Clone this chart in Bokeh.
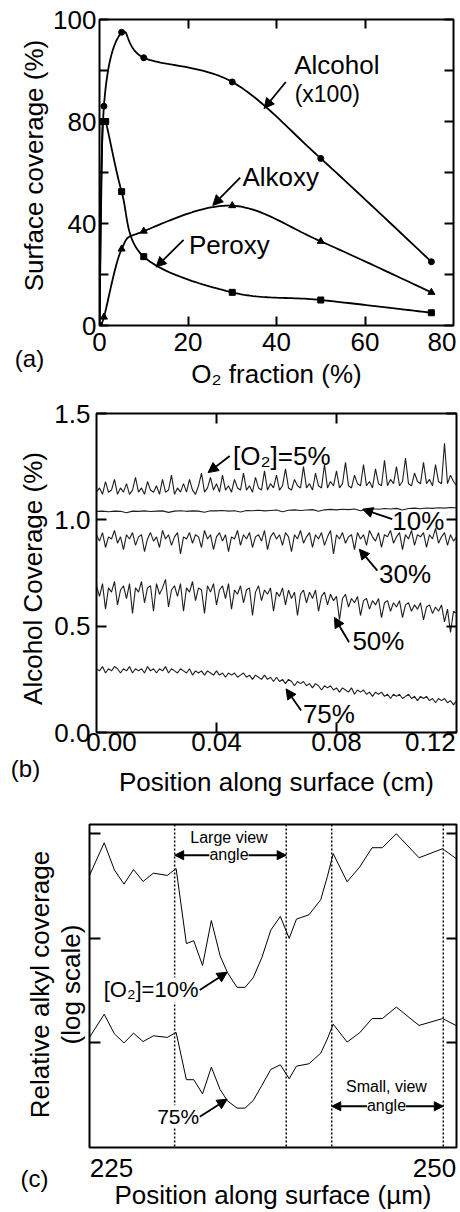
import math
import numpy as np
from bokeh.plotting import figure
from bokeh.layouts import column, row
from bokeh.models import (LinearAxis, FixedTicker, PrintfTickFormatter,
                          Label, Arrow, NormalHead, Span, Range1d)
from bokeh.embed import file_html
from bokeh.resources import INLINE

FONT = "Liberation Sans"

# ---------------- panel (a) data ----------------
o2_pct = [0, 1, 5, 10, 30, 50, 75]
alcohol_x100 = [0, 86, 115, 105, 95.5, 65.5, 25]
alkoxy = [0, 3.3, 30, 37, 47, 33, 13]
peroxy_o2_pct = [0, 0.7, 1.4, 5, 10, 30, 50, 75]
peroxy = [0, 80, 80, 52.5, 27, 13, 10, 5]
a_y_ticks = [0, 20, 40, 60, 80, 100, 120]
a_y_labels = {0: "0", 20: "", 40: "40", 60: "", 80: "80", 100: "", 120: "100"}
a_x_ticks = [20, 40, 60]
a_x_label_pos = [0, 20, 40, 60, 77.4]
a_x_label_text = {77.4: "80"}

# ---------------- panel (b) data ----------------
cov_5 = [1.13, 1.15, 1.12, 1.18, 1.13, 1.14, 1.19, 1.12, 1.15, 1.13,
         1.17, 1.12, 1.14, 1.20, 1.13, 1.15, 1.12, 1.18, 1.14, 1.13,
         1.16, 1.12, 1.19, 1.13, 1.14, 1.21, 1.12, 1.15, 1.13, 1.17,
         1.13, 1.19, 1.14, 1.12, 1.16, 1.22, 1.13, 1.15, 1.20, 1.14,
         1.17, 1.13, 1.21, 1.14, 1.16, 1.13, 1.19, 1.15, 1.14, 1.22,
         1.14, 1.16, 1.13, 1.20, 1.15, 1.14, 1.23, 1.14, 1.17, 1.15,
         1.21, 1.14, 1.16, 1.24, 1.15, 1.14, 1.19, 1.16, 1.15, 1.25,
         1.15, 1.17, 1.14, 1.22, 1.16, 1.15, 1.26, 1.15, 1.18, 1.16,
         1.23, 1.15, 1.17, 1.27, 1.16, 1.15, 1.21, 1.17, 1.16, 1.26,
         1.16, 1.18, 1.15, 1.24, 1.17, 1.16, 1.28, 1.16, 1.19, 1.17,
         1.25, 1.16, 1.18, 1.29, 1.17, 1.16, 1.22, 1.18, 1.17, 1.27,
         1.17, 1.19, 1.16, 1.26, 1.18, 1.17, 1.36, 1.17, 1.21, 1.18, 1.16]
cov_10 = [1.040, 1.041, 1.038, 1.041, 1.040, 1.033, 1.041, 1.040, 1.042, 1.039,
          1.041, 1.042, 1.035, 1.041, 1.043, 1.040, 1.042, 1.041, 1.036, 1.043,
          1.042, 1.044, 1.041, 1.043, 1.037, 1.044, 1.043, 1.045, 1.042, 1.044,
          1.046, 1.038, 1.045, 1.047, 1.044, 1.046, 1.048, 1.040, 1.047, 1.049,
          1.047, 1.050, 1.048, 1.051, 1.043, 1.050, 1.052, 1.050, 1.053, 1.051,
          1.054, 1.046, 1.053, 1.055, 1.052, 1.056, 1.054, 1.057, 1.055, 1.058, 1.057]
cov_30 = [0.93, 0.90, 0.94, 0.87, 0.92, 0.91, 0.95, 0.89, 0.92, 0.86,
          0.93, 0.91, 0.94, 0.88, 0.92, 0.93, 0.85, 0.91, 0.94, 0.90,
          0.92, 0.87, 0.95, 0.91, 0.93, 0.88, 0.92, 0.94, 0.84, 0.92,
          0.91, 0.94, 0.89, 0.93, 0.92, 0.87, 0.95, 0.91, 0.93, 0.86,
          0.92, 0.94, 0.90, 0.93, 0.85, 0.92, 0.91, 0.95, 0.88, 0.93,
          0.91, 0.94, 0.87, 0.92, 0.93, 0.90, 0.95, 0.86, 0.92, 0.94,
          0.91, 0.93, 0.88, 0.94, 0.92, 0.85, 0.93, 0.91, 0.95, 0.89,
          0.92, 0.94, 0.87, 0.93, 0.91, 0.94, 0.88, 0.92, 0.95, 0.84,
          0.93, 0.91, 0.94, 0.89, 0.92, 0.93, 0.86, 0.94, 0.91, 0.93,
          0.88, 0.95, 0.92, 0.90, 0.94, 0.87, 0.93, 0.92, 0.95, 0.89,
          0.92, 0.94, 0.86, 0.93, 0.91, 0.95, 0.88, 0.93, 0.92, 0.94,
          0.87, 0.93, 0.91, 0.96, 0.89, 0.92, 0.94, 0.88, 0.93, 0.90, 0.92]
cov_50 = [0.69, 0.64, 0.70, 0.58, 0.68, 0.66, 0.71, 0.60, 0.67, 0.69,
          0.63, 0.70, 0.56, 0.68, 0.66, 0.71, 0.61, 0.68, 0.69, 0.57,
          0.70, 0.65, 0.68, 0.72, 0.59, 0.67, 0.69, 0.64, 0.70, 0.57,
          0.68, 0.66, 0.71, 0.62, 0.68, 0.67, 0.56, 0.69, 0.66, 0.70,
          0.60, 0.67, 0.69, 0.63, 0.70, 0.58, 0.67, 0.65, 0.69, 0.61,
          0.67, 0.68, 0.55, 0.66, 0.69, 0.62, 0.67, 0.65, 0.68, 0.57,
          0.66, 0.64, 0.68, 0.60, 0.67, 0.63, 0.66, 0.55, 0.65, 0.67,
          0.61, 0.66, 0.63, 0.67, 0.57, 0.64, 0.66, 0.60, 0.65, 0.62,
          0.64, 0.53, 0.63, 0.65, 0.59, 0.63, 0.61, 0.64, 0.55, 0.62,
          0.63, 0.58, 0.62, 0.60, 0.63, 0.54, 0.61, 0.62, 0.57, 0.61,
          0.59, 0.62, 0.54, 0.60, 0.61, 0.57, 0.60, 0.58, 0.61, 0.53,
          0.59, 0.60, 0.56, 0.59, 0.57, 0.60, 0.52, 0.58, 0.47, 0.57, 0.56]
cov_75 = [0.30, 0.29, 0.31, 0.28, 0.30, 0.29, 0.31, 0.30, 0.28, 0.30,
          0.29, 0.31, 0.28, 0.30, 0.29, 0.30, 0.28, 0.31, 0.29, 0.30,
          0.28, 0.30, 0.29, 0.31, 0.28, 0.30, 0.29, 0.28, 0.30, 0.29,
          0.28, 0.30, 0.27, 0.29, 0.28, 0.29, 0.27, 0.29, 0.28, 0.27,
          0.29, 0.27, 0.28, 0.26, 0.28, 0.27, 0.28, 0.26, 0.27, 0.28,
          0.26, 0.27, 0.25, 0.27, 0.26, 0.25, 0.27, 0.25, 0.26, 0.24,
          0.26, 0.24, 0.25, 0.23, 0.25, 0.24, 0.22, 0.24, 0.23, 0.24,
          0.22, 0.23, 0.21, 0.23, 0.22, 0.20, 0.22, 0.21, 0.22, 0.20,
          0.21, 0.19, 0.21, 0.20, 0.19, 0.21, 0.18, 0.20, 0.19, 0.20,
          0.18, 0.19, 0.17, 0.19, 0.18, 0.19, 0.17, 0.18, 0.16, 0.18,
          0.17, 0.18, 0.16, 0.17, 0.18, 0.16, 0.17, 0.15, 0.17, 0.16,
          0.17, 0.15, 0.16, 0.14, 0.16, 0.15, 0.16, 0.14, 0.15, 0.13, 0.15]
b_scan_length_cm = 0.12
b_x_ticks = [0.04, 0.08]
b_x_label_pos = [0.005, 0.04, 0.08, 0.1113]
b_x_label_text = {0.005: "0.00", 0.1113: "0.12"}
b_y_ticks = [0.0, 0.5, 1.0, 1.5]

# ---------------- panel (c) data ----------------
pos_um = [225.0, 226.0, 226.7, 227.35, 228.0, 228.65, 229.35, 230.3, 230.9, 231.6,
          232.1, 232.7, 233.3, 233.9, 234.4, 235.05, 235.6, 236.15, 236.75, 237.35,
          238.0, 238.6, 239.1, 239.95, 240.75, 241.2, 241.6, 242.55, 243.4, 244.25,
          244.95, 245.9, 247.45, 249.05, 250.0]
alkyl_10 = [40, 82, 45, 33, 45.5, 35, 42, 40, 46.5, 8.9,
            9.5, 5.5, 14.8, 6.8, 4.7, 3.4, 3.4, 4.2, 6.6, 12,
            16.2, 10, 15.3, 16.8, 23.4, 38.8, 64.6, 34.8, 48, 73.6,
            73.6, 100, 59, 72, 57.5]
alkyl_75 = [1.13, 1.88, 1.22, 1.0, 1.24, 1.03, 1.17, 1.13, 1.26, 0.445,
            0.445, 0.326, 0.587, 0.358, 0.279, 0.238, 0.238, 0.281, 0.394, 0.558,
            0.618, 0.455, 0.600, 0.632, 0.798, 1.09, 1.51, 1.02, 1.25, 1.71,
            1.71, 2.2, 1.47, 1.71, 1.46]
view_edges_um = [230.8, 238.4, 241.5, 249.1]
c_y_ticks = [1, 10, 100]
c_x_label_pos = [226.5, 248.5]
c_x_label_text = {226.5: "225", 248.5: "250"}


def smooth_curve(xs, ys, n=30):
    xs = np.asarray(xs, float)
    ys = np.asarray(ys, float)
    k = len(xs)
    t = np.linspace(0.0, 1.0, n)
    h00 = 2 * t**3 - 3 * t**2 + 1
    h10 = t**3 - 2 * t**2 + t
    h01 = -2 * t**3 + 3 * t**2
    h11 = t**3 - t**2
    ox, oy = [], []
    for i in range(k - 1):
        a, b = max(i - 1, 0), min(i + 2, k - 1)
        mx0, my0 = (xs[i + 1] - xs[a]) / 2, (ys[i + 1] - ys[a]) / 2
        mx1, my1 = (xs[b] - xs[i]) / 2, (ys[b] - ys[i]) / 2
        cx = h00 * xs[i] + h10 * mx0 + h01 * xs[i + 1] + h11 * mx1
        cy = h00 * ys[i] + h10 * my0 + h01 * ys[i + 1] + h11 * my1
        cy = np.clip(cy, min(ys[i], ys[i + 1]), max(ys[i], ys[i + 1]))
        cx = np.clip(cx, xs[i], xs[i + 1])
        ox.extend(cx[:-1])
        oy.extend(cy[:-1])
    ox.append(xs[-1])
    oy.append(ys[-1])
    return ox, oy


def style_axis(ax, tick_in=9):
    ax.major_label_text_font = FONT
    ax.major_label_text_font_size = "26px"
    ax.major_label_text_color = "black"
    ax.axis_label_text_font = FONT
    ax.axis_label_text_font_size = "26px"
    ax.axis_label_text_font_style = "normal"
    ax.axis_label_text_color = "black"
    ax.major_tick_in = tick_in
    ax.major_tick_out = 0
    ax.major_tick_line_width = 2
    ax.major_tick_line_color = "black"
    ax.minor_tick_line_color = None
    ax.axis_line_color = None


def hidden_axis(ax, tick_in=9):
    style_axis(ax, tick_in)
    ax.major_label_text_font_size = "1px"
    ax.major_label_text_color = None
    ax.major_label_standoff = 0


def label_axis(ax, label_pos, real_ticks, overrides, tick_in):
    """bottom axis: labels at label_pos, tick marks (as minor ticks) at the real tick values"""
    style_axis(ax, 0)
    ax.ticker = FixedTicker(ticks=label_pos, minor_ticks=real_ticks)
    ax.major_tick_line_color = None
    ax.minor_tick_in = tick_in
    ax.minor_tick_out = 0
    ax.minor_tick_line_width = 2
    ax.minor_tick_line_color = "black"
    ax.major_label_overrides = overrides


def base_fig(**kw):
    p = figure(output_backend="svg", toolbar_location=None, frame_align=False, **kw)
    p.grid.visible = False
    p.outline_line_color = "black"
    p.outline_line_width = 2
    p.background_fill_color = "white"
    p.border_fill_color = "white"
    return p


def side_fig(w, h):
    p = figure(width=w, height=h, x_range=Range1d(0, w), y_range=Range1d(0, h),
               output_backend="svg", toolbar_location=None, frame_align=False,
               min_border=0, x_axis_location=None, y_axis_location=None)
    p.grid.visible = False
    p.outline_line_color = None
    p.background_fill_color = "white"
    p.border_fill_color = "white"
    return p


def add_label(p, x, y, text, size="26px", align="left", baseline="middle",
              bg=None, **kw):
    lab = Label(x=x, y=y, text=text, text_font=FONT, text_font_size=size,
                text_align=align, text_baseline=baseline, text_color="black", **kw)
    if bg is not None:
        lab.background_fill_color = bg
    p.add_layout(lab)


def add_arrow(p, xs, ys, xe, ye, both=False, size=10, lw=1.8):
    def head():
        return NormalHead(size=size, fill_color="black", line_color="black", line_width=1)
    p.add_layout(Arrow(x_start=xs, y_start=ys, x_end=xe, y_end=ye, end=head(),
                       start=head() if both else None, line_width=lw, line_color="black"))


VERT = math.pi / 2

# ================= panel (a) =================
HA = 392
sa = side_fig(50, HA)
add_label(sa, 33, HA - 165, "Surface coverage (%)", align="center", angle=VERT)
add_label(sa, 29, HA - 358, "(a)", size="24px", align="center")

pa = base_fig(width=410, height=HA, x_range=Range1d(0, 80), y_range=Range1d(0, 120),
              min_border_left=48, min_border_right=7, min_border_top=19, min_border_bottom=67)
xa = pa.below[0]
label_axis(xa, a_x_label_pos, a_x_ticks, a_x_label_text, 9)
xa.major_label_standoff = 7
xa.axis_label = "O\u2082 fraction (%)"
xa.axis_label_standoff = 5
ya = pa.left[0]
style_axis(ya)
ya.ticker = FixedTicker(ticks=a_y_ticks)
ya.major_label_overrides = a_y_labels
ya.major_label_standoff = 3
ta = LinearAxis(ticker=FixedTicker(ticks=a_x_ticks))
hidden_axis(ta)
pa.add_layout(ta, "above")
ra = LinearAxis(ticker=FixedTicker(ticks=a_y_ticks))
hidden_axis(ra)
pa.add_layout(ra, "right")

for xs_, ys_, mk, sz in [(o2_pct, alcohol_x100, "circle", 6),
                         (o2_pct, alkoxy, "triangle", 7),
                         (peroxy_o2_pct, peroxy, "square", 6)]:
    cx, cy = smooth_curve(xs_, ys_)
    pa.line(cx, cy, line_width=1.8, line_color="black")
    pa.scatter(xs_, ys_, marker=mk, size=sz, fill_color="black", line_color="black")

add_arrow(pa, 42.1, 95.5, 37.2, 85.1)
add_arrow(pa, 31.8, 58.0, 25.6, 47.1)
add_arrow(pa, 19.0, 33.6, 12.8, 22.9)
add_label(pa, 44.0, 102.1, "Alcohol")
add_label(pa, 44.1, 90.7, "(x100)", size="23px")
add_label(pa, 32.3, 58.2, "Alkoxy")
add_label(pa, 20.2, 31.4, "Peroxy")

# ================= panel (b) =================
HB = 410
sb = side_fig(48, HB)
add_label(sb, 32, HB - 186, "Alcohol Coverage (%)", align="center", angle=VERT)
add_label(sb, 25, HB - 376, "(b)", size="24px", align="center")

pb = base_fig(width=412, height=HB, x_range=Range1d(0, b_scan_length_cm), y_range=Range1d(0, 1.5),
              min_border_left=48, min_border_right=4, min_border_top=21, min_border_bottom=70)
xb = pb.below[0]
label_axis(xb, b_x_label_pos, b_x_ticks, b_x_label_text, 10)
xb.formatter = PrintfTickFormatter(format="%.2f")
xb.major_label_standoff = 0
xb.axis_label = "Position along surface (cm)"
xb.axis_label_standoff = 13
yb = pb.left[0]
style_axis(yb, tick_in=10)
yb.ticker = FixedTicker(ticks=b_y_ticks)
yb.formatter = PrintfTickFormatter(format="%.1f")
yb.major_label_standoff = 6
tb = LinearAxis(ticker=FixedTicker(ticks=b_x_ticks))
hidden_axis(tb, 10)
pb.add_layout(tb, "above")
rb = LinearAxis(ticker=FixedTicker(ticks=b_y_ticks))
hidden_axis(rb, 10)
pb.add_layout(rb, "right")

for series in [cov_5, cov_10, cov_30, cov_50, cov_75]:
    pos = np.arange(len(series)) * b_scan_length_cm / (len(series) - 1)
    pb.line(pos, series, line_width=1.1, line_color="#1e1e1e")

add_arrow(pb, 0.0444, 1.300, 0.0372, 1.222)
add_label(pb, 0.0455, 1.300, "[O\u2082]=5%")
add_arrow(pb, 0.0986, 1.003, 0.0887, 1.050)
add_label(pb, 0.0986, 0.995, "10%")
add_arrow(pb, 0.0936, 0.761, 0.0876, 0.862)
add_label(pb, 0.0942, 0.745, "30%")
add_arrow(pb, 0.0842, 0.424, 0.0793, 0.541)
add_label(pb, 0.0853, 0.432, "50%")
add_arrow(pb, 0.0682, 0.103, 0.0632, 0.205)
add_label(pb, 0.0688, 0.088, "75%")

# ================= panel (c) =================
HC = 410
sc = side_fig(86, HC)
add_label(sc, 39, HC - 182, "Relative alkyl coverage", align="center", angle=VERT)
add_label(sc, 70, HC - 182, "(log scale)", align="center", angle=VERT)
add_label(sc, 34, HC - 376, "(c)", size="24px", align="center")

pc = base_fig(width=374, height=HC, x_range=Range1d(225, 250), y_range=Range1d(0.1, 122.7),
              y_axis_type="log",
              min_border_left=3, min_border_right=4, min_border_top=22, min_border_bottom=63)
xc = pc.below[0]
label_axis(xc, c_x_label_pos, [], c_x_label_text, 0)
xc.major_label_standoff = 11
xc.axis_label = "Position along surface (\u00b5m)"
xc.axis_label_standoff = 0
yc = pc.left[0]
hidden_axis(yc, 11)
yc.ticker = FixedTicker(ticks=c_y_ticks)
yc.formatter = PrintfTickFormatter(format="%d")
rc = LinearAxis(ticker=FixedTicker(ticks=c_y_ticks))
hidden_axis(rc, 10)
rc.formatter = PrintfTickFormatter(format="%d")
pc.add_layout(rc, "right")

pc.line(pos_um, alkyl_10, line_width=1, line_color="black")
pc.line(pos_um, alkyl_75, line_width=1, line_color="black")
for edge in view_edges_um:
    pc.add_layout(Span(location=edge, dimension="height", line_dash="2 2",
                       line_width=1.5, line_color="black"))

add_arrow(pc, 234.5, 62.4, view_edges_um[0], 62.4, size=9, lw=2)
add_arrow(pc, 234.5, 62.4, view_edges_um[1], 62.4, size=9, lw=2)
add_label(pc, 234.5, 93.0, "Large view", size="16px", align="center")
add_label(pc, 234.5, 63.7, "angle", size="16px", align="center", bg="white")
add_arrow(pc, 245.3, 0.248, view_edges_um[2], 0.248, size=9, lw=2)
add_arrow(pc, 245.3, 0.248, view_edges_um[3], 0.248, size=9, lw=2)
add_label(pc, 245.23, 0.379, "Small, view", size="16px", align="center")
add_label(pc, 245.23, 0.254, "angle", size="16px", align="center", bg="white")
add_arrow(pc, 232.51, 3.21, 234.38, 4.75)
add_label(pc, 225.97, 3.21, "[O\u2082]=10%", size="22px", bg="white")
add_arrow(pc, 232.51, 0.197, 234.38, 0.29)
add_label(pc, 229.61, 0.197, "75%", size="21px", bg="white")

layout = column(row(sa, pa), row(sb, pb), row(sc, pc))
open("out.html", "w").write(file_html(layout, INLINE))
